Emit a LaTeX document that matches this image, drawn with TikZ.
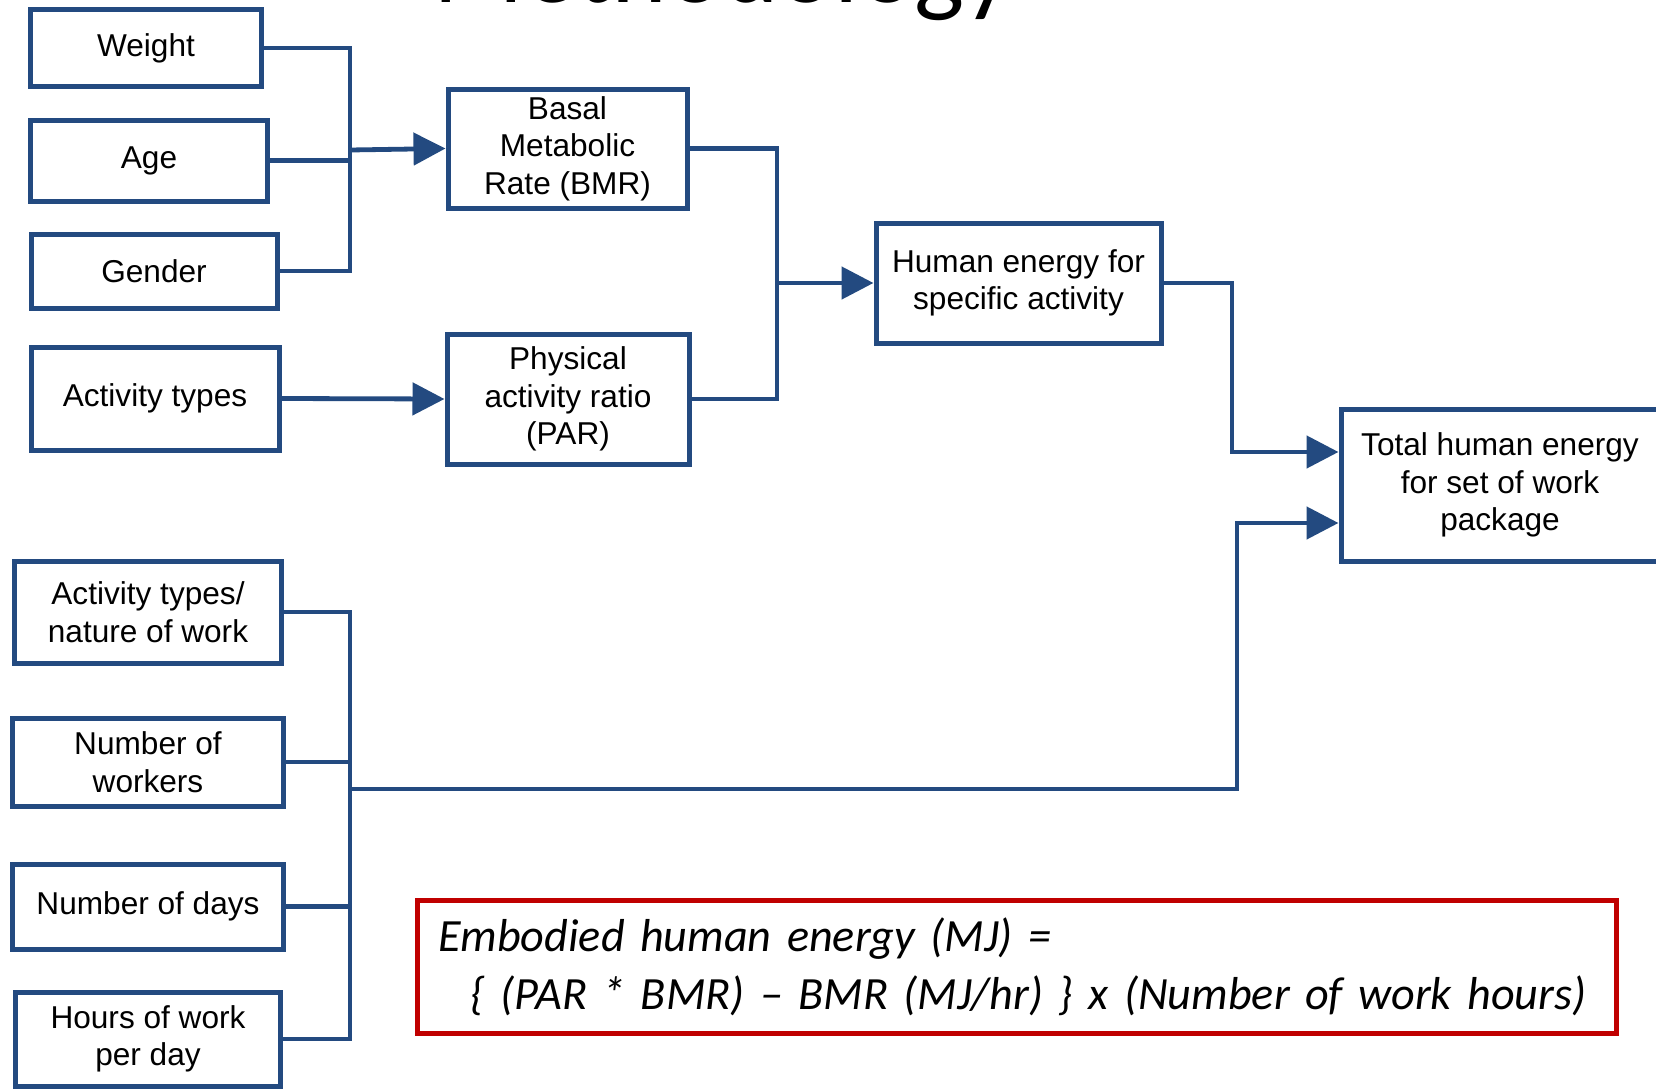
\documentclass[tikz,border=0pt]{standalone}
\usepackage{fontspec}
\setmainfont{Liberation Sans}
\newfontfamily\calibri{Carlito}
\usetikzlibrary{arrows.meta}
\definecolor{dblue}{RGB}{35,74,128}
\definecolor{dred}{RGB}{192,0,0}
\tikzset{
  box/.style={draw=dblue, line width=2.5pt, fill=white, align=center, inner sep=2pt,
    font=\fontsize{15.8}{18.8}\selectfont},
  conn/.style={draw=dblue, line width=2.4pt},
  arr/.style={conn, -{Triangle[length=16pt,width=16pt]}},
  formula/.style={draw=dred, line width=2.5pt, align=left, inner xsep=10.5pt,
    font=\calibri\itshape\fontsize{23.1}{29}\selectfont},
  titletext/.style={font=\calibri\fontsize{53}{60}\selectfont, inner sep=0pt}
}
\begin{document}
\begin{tikzpicture}[x=0.5pt,y=-0.5pt]
\useasboundingbox (0,0) rectangle (1656,1092);
\clip (0,0) rectangle (1656,1092);
\fill[white] (0,0) rectangle (1656,1092);

\node[titletext, anchor=base west] (title) at (433,3) {Methodology};

% top group
\node[box, minimum width=115.5pt, minimum height=38.5pt] (weight) at (146,48) {Weight};
\node[box, minimum width=118.5pt, minimum height=40.5pt] (age) at (149,160.5) {Age};
\node[box, minimum width=123pt, minimum height=37pt] (gender) at (154,271) {Gender};
\node[box, minimum width=124pt, minimum height=51.5pt] (acttypes) at (155,398.5) {Activity types};
\node[box, minimum width=119.5pt, minimum height=59.5pt] (bmr) at (567.5,148.5) {Basal\\Metabolic\\Rate (BMR)};
\node[box, minimum width=121pt, minimum height=65pt] (par) at (568,399) {Physical\\activity ratio\\(PAR)};
\node[box, minimum width=142.5pt, minimum height=60pt] (human) at (1018.5,283) {Human energy for\\specific activity};
\node[box, minimum width=159pt, minimum height=76pt] (total) at (1500,485) {Total human energy\\for set of work\\package};

% bottom group
\node[box, minimum width=133.5pt, minimum height=51pt] (nature) at (148,612) {Activity types/\\nature of work};
\node[box, minimum width=135.5pt, minimum height=44pt] (workers) at (148,762) {Number of\\workers};
\node[box, minimum width=135.5pt, minimum height=42.5pt] (days) at (148,906.5) {Number of days};
\node[box, minimum width=132.5pt, minimum height=47pt] (hours) at (148,1039) {Hours of work\\per day};

% formula
\node[formula, minimum width=599.5pt, minimum height=66.5pt, text width=578pt] (eq) at (1016.5,966.5)
  {Embodied human energy (MJ) =\\\hspace*{16pt}\{ (PAR * BMR) – BMR (MJ/hr) \} x (Number of work hours)};

% connectors
\coordinate (b1) at (350,150);
\draw[conn] (weight.east) -| (b1) |- (gender.east);
\draw[conn] (age.east) -- (age.east -| b1);
\draw[arr] (b1) -- (bmr.west);
\draw[arr] (acttypes.east) -- (par.west);

\coordinate (b2) at (777,283);
\draw[conn] (bmr.east) -| (b2) |- (par.east);
\draw[arr] (b2) -- (human.west);

\coordinate (c1) at (1232,452);
\draw[arr] (human.east) -| (c1) -- (total.west |- c1);

\coordinate (b3) at (350,789);
\draw[conn] (nature.east) -| (b3) |- (hours.east);
\draw[conn] (workers.east) -- (workers.east -| b3);
\draw[conn] (days.east) -- (days.east -| b3);
\coordinate (c2) at (1237,523);
\draw[arr] (b3) -| (c2) -- (total.west |- c2);
\end{tikzpicture}
\end{document}
